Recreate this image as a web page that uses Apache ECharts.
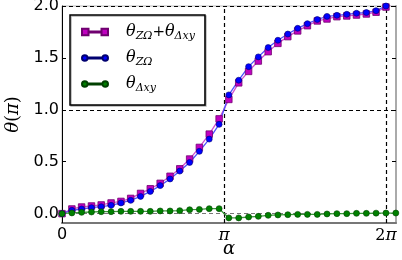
<!DOCTYPE html>
<html>
<head>
<meta charset="utf-8">
<script src="https://cdn.jsdelivr.net/npm/echarts@6/dist/echarts.min.js"></script>
<style>html,body{margin:0;padding:0;background:#fff}#c{width:402px;height:260px}</style>
</head>
<body>
<div id="c"></div>
<script>
// alpha in units of pi
const alphaPi = [0, 0.061, 0.121, 0.182, 0.242, 0.303, 0.364, 0.424, 0.485, 0.545, 0.606, 0.667, 0.727, 0.788, 0.848, 0.909, 0.970, 1.030, 1.091, 1.152, 1.212, 1.273, 1.333, 1.394, 1.455, 1.515, 1.576, 1.636, 1.697, 1.758, 1.818, 1.879, 1.939, 2.000, 2.061];
const thetaSum = [0.0, 0.045, 0.064, 0.074, 0.084, 0.103, 0.118, 0.147, 0.195, 0.24, 0.292, 0.36, 0.432, 0.526, 0.638, 0.766, 0.913, 1.10, 1.26, 1.37, 1.47, 1.56, 1.64, 1.705, 1.76, 1.81, 1.856, 1.875, 1.897, 1.904, 1.913, 1.923, 1.94, 1.99, 2.04];
const thetaZO = [0.0, 0.032, 0.045, 0.058, 0.067, 0.08, 0.103, 0.128, 0.166, 0.214, 0.27, 0.334, 0.41, 0.493, 0.60, 0.718, 0.86, 1.144, 1.285, 1.416, 1.51, 1.60, 1.67, 1.73, 1.785, 1.83, 1.87, 1.90, 1.91, 1.92, 1.93, 1.937, 1.955, 2.0, 2.04];
const thetaDxy = [0, 0.007, 0.0125, 0.016, 0.019, 0.019, 0.022, 0.022, 0.022, 0.022, 0.026, 0.026, 0.029, 0.038, 0.041, 0.048, 0.048, -0.041, -0.041, -0.032, -0.026, -0.016, -0.0125, -0.01, -0.007, -0.007, -0.007, -0.003, 0, 0, 0.003, 0.003, 0.005, 0.006, 0.006];
const xTicks = [0, 1, 2];
const xTickLabels = ['{s|0}', '{i|π}', '{r|2}{i|π}'];
const yTicks = [0, 0.5, 1, 1.5, 2];
const hLines = [0, 1, 2];
const vLines = [1, 2];

const pair = arr => arr.map((v, i) => [alphaPi[i], v]);
const serifI = {fontFamily: 'DejaVu Serif', fontStyle: 'italic'};
const chart = echarts.init(document.getElementById('c'), null, {renderer: 'canvas'});

const legendNames = {
  sum: '{t|θ}{s|ZΩ}{p|+}{t|θ}{s|Δxy}',
  zo: '{t|θ}{s|ZΩ}',
  dxy: '{t|θ}{s|Δxy}'
};

const mkLines = [];
hLines.forEach(v => mkLines.push({yAxis: v, lineStyle: {color: v === 0 ? '#777' : '#000', type: [4, 3], width: 1.2}}));
vLines.forEach(v => mkLines.push({xAxis: v, lineStyle: {color: '#000', type: [4, 3], width: 1.2}}));

const rectIcon = 'path://M0,1h7v7h-7z M21,1h7v7h-7z M7,3.9h14v1.2h-14z';
const circIcon = 'path://M0,4.5a3,3 0 1,0 6,0a3,3 0 1,0 -6,0z M22,4.5a3,3 0 1,0 6,0a3,3 0 1,0 -6,0z M6,3.9h16v1.2h-16z';

chart.setOption({
  animation: false,
  grid: {left: 62, right: 6, top: 6, bottom: 37, show: true, borderColor: '#bbb', borderWidth: 1, outerBoundsMode: 'none', containLabel: false},
  xAxis: [{
    type: 'value', min: 0, max: 2.062,
    axisLine: {show: true, onZero: false, lineStyle: {color: '#777', width: 2}},
    axisTick: {show: true, inside: true, length: 4, customValues: xTicks, lineStyle: {color: '#000'}},
    axisLabel: {
      customValues: xTicks, margin: 4, color: '#000',
      formatter: v => xTickLabels[xTicks.indexOf(Math.round(v))] || '',
      rich: {
        s: {fontFamily: 'DejaVu Sans', fontSize: 16, color: '#000'},
        i: Object.assign({fontSize: 17, color: '#000'}, serifI),
        r: {fontFamily: 'DejaVu Serif', fontSize: 16, color: '#000'}
      }
    },
    splitLine: {show: false},
    name: '{i|α}', nameLocation: 'middle', nameGap: 17, nameMoveOverlap: false,
    nameTextStyle: {rich: {i: Object.assign({fontSize: 18, color: '#000'}, serifI)}}
  }, {
    type: 'value', min: 0, max: 2.062, position: 'top',
    axisLine: {show: false},
    axisTick: {show: true, inside: true, length: 4, customValues: xTicks, lineStyle: {color: '#000'}},
    axisLabel: {show: false}, splitLine: {show: false}
  }],
  yAxis: [{
    type: 'value', min: -0.09, max: 2.0,
    axisLine: {show: true, onZero: false, lineStyle: {color: '#000', width: 1}},
    axisTick: {show: true, inside: true, length: 4, customValues: yTicks, lineStyle: {color: '#000'}},
    axisLabel: {
      customValues: yTicks, margin: 3, color: '#000',
      fontFamily: 'DejaVu Sans', fontSize: 16,
      formatter: v => v.toFixed(1)
    },
    splitLine: {show: false},
    name: '{i|θ}{r|(}{i|π}{r|)}', nameLocation: 'middle', nameGap: 40, nameRotate: 90, nameMoveOverlap: false,
    nameTextStyle: {rich: {
      i: Object.assign({fontSize: 18, color: '#000'}, serifI),
      r: {fontFamily: 'DejaVu Serif', fontSize: 18, color: '#000'}
    }}
  }, {
    type: 'value', min: -0.09, max: 2.0, position: 'right',
    axisLine: {show: true, onZero: false, lineStyle: {color: '#aaa', width: 2}},
    axisTick: {show: true, inside: true, length: 4, customValues: yTicks, lineStyle: {color: '#000'}},
    axisLabel: {show: false}, splitLine: {show: false}
  }],
  legend: {
    left: 70, top: 15, orient: 'vertical',
    padding: [9, 10, 11, 11], itemGap: 8,
    itemWidth: 26, itemHeight: 8,
    borderColor: '#000', borderWidth: 1.5, backgroundColor: '#fff',
    shadowColor: 'rgba(0,0,0,0.3)', shadowOffsetX: 1, shadowOffsetY: 1,
    formatter: n => legendNames[n],
    textStyle: {
      padding: [0, 0, 0, 13],
      rich: {
        t: Object.assign({fontSize: 16, lineHeight: 20, color: '#000'}, serifI),
        s: Object.assign({fontSize: 11, lineHeight: 9, verticalAlign: 'bottom', color: '#000'}, serifI),
        p: {fontFamily: 'DejaVu Serif', fontSize: 15, lineHeight: 20, color: '#000'}
      }
    },
    data: [{name: 'sum', icon: rectIcon}, {name: 'zo', icon: circIcon}, {name: 'dxy', icon: circIcon}]
  },
  series: [{
    name: 'sum', type: 'line', data: pair(thetaSum),
    symbol: 'rect', symbolSize: 6.5,
    lineStyle: {color: '#d050d0', width: 1.3},
    itemStyle: {color: '#c000c0', borderColor: '#700070', borderWidth: 0.8},
    clip: true
  }, {
    name: 'zo', type: 'line', data: pair(thetaZO),
    symbol: 'circle', symbolSize: 6,
    lineStyle: {color: '#5050ff', width: 1.3},
    itemStyle: {color: '#0000ff', borderColor: '#000070', borderWidth: 0.6},
    clip: true
  }, {
    name: 'dxy', type: 'line', data: pair(thetaDxy),
    symbol: 'circle', symbolSize: 6,
    lineStyle: {color: '#3a9a3a', width: 1.3},
    itemStyle: {color: '#008000', borderColor: '#004000', borderWidth: 0.6},
    clip: true,
    markLine: {silent: true, symbol: 'none', label: {show: false}, data: mkLines, z: 1}
  }]
});
</script>
</body>
</html>
